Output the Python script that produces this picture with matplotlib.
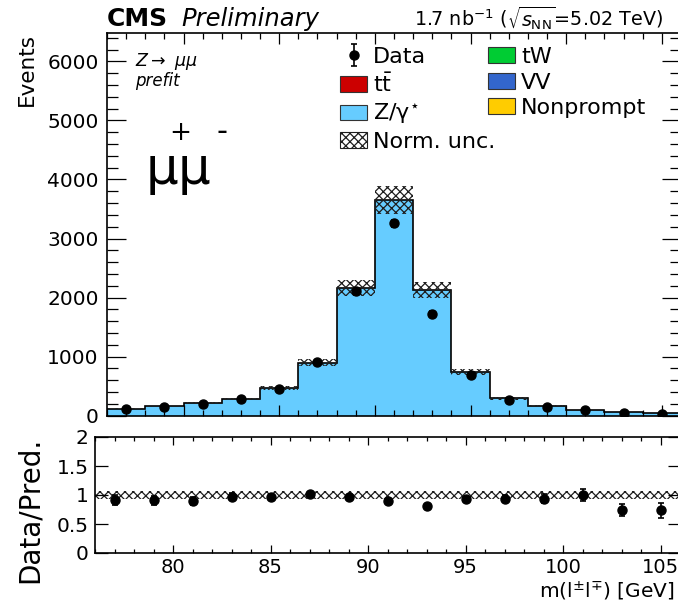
import numpy as np
import matplotlib
matplotlib.use("Agg")
import matplotlib.pyplot as plt
from matplotlib.patches import Patch
from matplotlib.ticker import MultipleLocator, FixedLocator, FixedFormatter, NullLocator

# ---- dilepton mass spectrum, Z -> mu mu, prefit ----
bin_edges = [76, 78, 80, 82, 84, 86, 88, 90, 92, 94, 96, 98, 100, 102, 104, 106]
data_counts = [108, 144, 191, 275, 452, 909, 2105, 3257, 1725, 684, 274, 155, 92, 46, 33]
zgamma = [117, 157, 211, 282, 464, 898, 2160, 3652, 2126, 738, 291, 164, 91, 61, 44]
ttbar = [0.4, 0.4, 0.4, 0.4, 0.4, 0.5, 0.5, 0.5, 0.5, 0.4, 0.4, 0.4, 0.4, 0.3, 0.3]
tw = [0.1, 0.1, 0.1, 0.1, 0.1, 0.1, 0.1, 0.1, 0.1, 0.1, 0.1, 0.1, 0.1, 0.1, 0.1]
vv = [0.2, 0.2, 0.3, 0.3, 0.4, 0.6, 1.0, 1.5, 1.0, 0.5, 0.3, 0.2, 0.2, 0.2, 0.2]
nonprompt = [0.3, 0.3, 0.3, 0.3, 0.3, 0.3, 0.4, 0.4, 0.4, 0.3, 0.3, 0.3, 0.3, 0.3, 0.3]
norm_unc = 0.065

process_labels = [r"$\mathrm{t}\bar{\mathrm{t}}$", "tW", "VV", "Nonprompt", "Z/γ$^{\\star}$"]
process_colors = ["#cc0000", "#00cc33", "#3366cc", "#ffcc00", "#66ccff"]

W, H = 678, 604
fig = plt.figure(figsize=(W / 100, H / 100), dpi=100)
plt.rcParams["hatch.linewidth"] = 0.9


def px_box(x0, y0, x1, y1):
    return [x0 / W, 1 - y1 / H, (x1 - x0) / W, (y1 - y0) / H]


ax = fig.add_axes(px_box(107, 33, 681, 415.7))
axr = fig.add_axes(px_box(95, 437, 680, 553))

edges = np.array(bin_edges, dtype=float)
centers = 0.5 * (edges[:-1] + edges[1:])
data = np.array(data_counts, dtype=float)

# stacked backgrounds, Z/gamma* on top
stack_order = [ttbar, tw, vv, nonprompt, zgamma]
cum = np.zeros(len(centers))
for vals, col in zip(stack_order, process_colors):
    new = cum + np.array(vals, dtype=float)
    ax.stairs(new, edges, baseline=cum.copy(), fill=True, color=col, linewidth=0)
    cum = new
pred = cum

ax.stairs(pred, edges, color="black", linewidth=1.2)

# normalisation uncertainty band
hatch_col = "#1e1e1e"
ax.stairs(pred * (1 + norm_unc), edges, baseline=pred * (1 - norm_unc), fill=True,
          facecolor="none", edgecolor=hatch_col, hatch="xxxx", linewidth=0)

err = ax.errorbar(centers, data, yerr=np.sqrt(data), fmt="o", color="black",
                  ms=6.5, elinewidth=1.2, capsize=2.5, capthick=1.2)

ax.set_xlim(76, 106)
ax.set_ylim(0, 6480)
ax.xaxis.set_major_locator(MultipleLocator(5))
ax.xaxis.set_minor_locator(MultipleLocator(1))
ax.yaxis.set_major_locator(MultipleLocator(1000))
ax.yaxis.set_minor_locator(MultipleLocator(200))
ax.tick_params(which="both", direction="in", top=True, right=True, labelbottom=False,
               width=0.9, labelsize=14.5)
ax.tick_params(axis="y", which="major", length=13.5, pad=6)
ax.tick_params(axis="y", which="minor", length=8)
ax.tick_params(axis="x", which="major", length=8)
ax.tick_params(axis="x", which="minor", length=4.5)
for s in ax.spines.values():
    s.set_linewidth(1.2)

ax.set_ylabel("Events", fontsize=15.5, loc="top")
ax.yaxis.set_label_coords(-0.139, 1.0)
ax.yaxis.label.set_rotation_mode("default")
ax.yaxis.label.set_va("top")
ax.yaxis.label.set_ha("center")

# ratio panel
ratio = data / pred
ratio_err = np.sqrt(data) / pred
axr.stairs(np.full(len(centers), 1 + norm_unc), edges,
           baseline=np.full(len(centers), 1 - norm_unc), fill=True,
           facecolor="none", edgecolor=hatch_col, hatch="xxxx", linewidth=0)
axr.errorbar(centers, ratio, yerr=ratio_err, fmt="o", color="black",
             ms=6.5, elinewidth=1.2, capsize=2.5, capthick=1.2)
axr.set_xlim(76, 106)
axr.set_ylim(0, 2)
axr.xaxis.set_major_locator(MultipleLocator(5))
axr.xaxis.set_minor_locator(MultipleLocator(1))
ratio_ticks = [0, 0.5, 1, 1.5, 2]
axr.yaxis.set_major_locator(FixedLocator(ratio_ticks))
axr.yaxis.set_major_formatter(FixedFormatter([f"{t:g}" for t in ratio_ticks]))
axr.yaxis.set_minor_locator(NullLocator())
axr.tick_params(which="both", direction="in", top=True, right=True,
                width=0.9, labelsize=14.5)
axr.tick_params(axis="x", labelsize=14)
axr.tick_params(axis="y", which="major", length=9, pad=4.5)
axr.tick_params(axis="x", which="major", length=5.5, pad=3.5)
axr.tick_params(axis="x", which="minor", length=3)
for s in axr.spines.values():
    s.set_linewidth(1.2)

axr.set_ylabel("Data/Pred.", fontsize=20, loc="top")
axr.yaxis.set_label_coords(-0.111, 1.0)
axr.yaxis.label.set_rotation_mode("default")
axr.yaxis.label.set_va("top")
axr.yaxis.label.set_ha("center")

axr.set_xlabel(r"m(l$^{\pm}$l$^{\mp}$) [GeV]", fontsize=14.5, loc="right")
axr.xaxis.set_label_coords((675 - 95) / 585, -0.23)

# header
fig.text(107 / W, 1 - 26 / H, "CMS", fontsize=18, fontweight="bold", va="baseline")
fig.text(181 / W, 1 - 26 / H, "Preliminary", fontsize=17.5, style="italic", va="baseline")
fig.text(663 / W, 1 - 26.5 / H, r"1.7 nb$^{-1}$ ($\sqrt{s_{\mathrm{NN}}}$=5.02 TeV)",
         fontsize=13.8, ha="right", va="baseline")

# channel labels
fig.text(135 / W, 1 - 65.5 / H, r"$Z\rightarrow\ \mu\mu$", fontsize=12.5, va="baseline")
fig.text(135 / W, 1 - 86 / H, "prefit", fontsize=12, style="italic", va="baseline")
fig.text(145 / W, 1 - 184 / H, r"$\mathrm{μμ}$", fontsize=37, va="baseline")
fig.text(180 / W, 1 - 132.5 / H, r"$+$", fontsize=19, ha="center", va="center")
fig.text(222 / W, 1 - 131 / H, "-", fontsize=22, ha="center", va="center")

# legends
leg_kw = dict(frameon=False, fontsize=16, handlelength=1.22, handleheight=0.72,
              handletextpad=0.27, labelspacing=0.25, borderpad=0, borderaxespad=0,
              loc="upper left", bbox_transform=fig.transFigure)
h_tt = Patch(facecolor=process_colors[0], edgecolor="#333333", linewidth=0.8)
h_tw = Patch(facecolor=process_colors[1], edgecolor="#333333", linewidth=0.8)
h_vv = Patch(facecolor=process_colors[2], edgecolor="#333333", linewidth=0.8)
h_np = Patch(facecolor=process_colors[3], edgecolor="#333333", linewidth=0.8)
h_z = Patch(facecolor=process_colors[4], edgecolor="#333333", linewidth=0.8)
h_unc = Patch(facecolor="white", edgecolor=hatch_col, hatch="xxxx", linewidth=0.8)

leg1 = ax.legend([err, h_tt, h_z, h_unc],
                 ["Data", process_labels[0], process_labels[4], "Norm. unc."],
                 bbox_to_anchor=(340 / W, 1 - 47 / H), **leg_kw)
ax.add_artist(leg1)
leg2 = ax.legend([h_tw, h_vv, h_np], [process_labels[1], process_labels[2], process_labels[3]],
                 bbox_to_anchor=(488 / W, 1 - 47 / H), **leg_kw)

fig.savefig("out.png", dpi=100)
